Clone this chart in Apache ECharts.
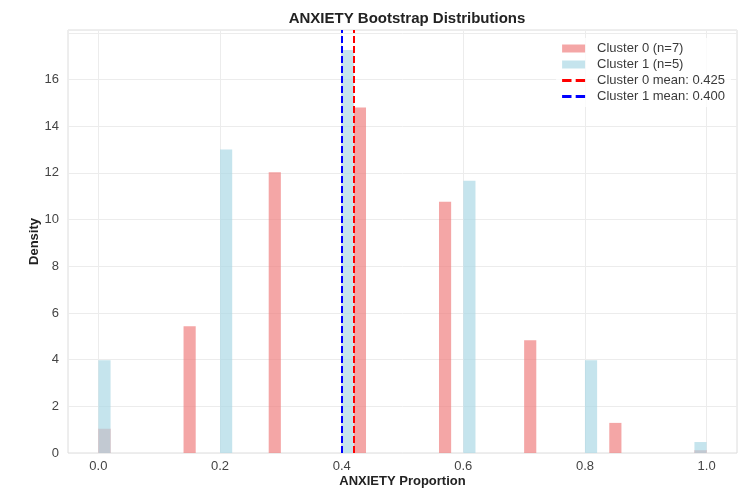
<!DOCTYPE html>
<html>
<head>
<meta charset="utf-8">
<script src="https://cdn.jsdelivr.net/npm/echarts@6/dist/echarts.min.js"></script>
<style>
  html, body { margin: 0; padding: 0; background: #fff; }
  #chart { width: 743px; height: 495px; }
</style>
</head>
<body>
<div id="chart"></div>
<script>
// Histogram bins (left edges) and densities for each cluster
const binWidth = 0.02;
const cluster0Bins = [0.00, 0.14, 0.28, 0.42, 0.56, 0.70, 0.84, 0.98];
const cluster0Density = [1.04, 5.43, 12.03, 14.80, 10.76, 4.83, 1.29, 0.12];
const cluster1Bins = [0.00, 0.20, 0.40, 0.60, 0.80, 0.98];
const cluster1Density = [3.97, 13.00, 17.26, 11.66, 3.97, 0.47];

// Bootstrap means
const cluster0Mean = 0.425;
const cluster1Mean = 0.400;

const xTicks = [0.0, 0.2, 0.4, 0.6, 0.8, 1.0];
const yTicks = [0, 2, 4, 6, 8, 10, 12, 14, 16];

const FONT = '"Liberation Sans", Arial, sans-serif';
const RED_FILL = 'rgba(240,128,128,0.7)';
const BLUE_FILL = 'rgba(173,216,230,0.7)';

function histSeries(name, bins, dens, fill) {
  return {
    name: name,
    type: 'custom',
    data: bins.map((b, i) => [b, dens[i]]),
    encode: { x: 0, y: 1 },
    clip: true,
    itemStyle: { color: fill },
    renderItem: function (params, api) {
      const x0 = api.value(0);
      const h = api.value(1);
      const pTop = api.coord([x0, h]);
      const pBase = api.coord([x0 + binWidth, 0]);
      return {
        type: 'rect',
        shape: { x: pTop[0], y: pTop[1], width: pBase[0] - pTop[0], height: pBase[1] - pTop[1] },
        style: { fill: fill }
      };
    }
  };
}

function meanSeries(name, value, color) {
  return {
    name: name,
    type: 'line',
    data: [],
    color: color,
    markLine: {
      silent: true,
      symbol: 'none',
      label: { show: false },
      lineStyle: { color: color, width: 2, type: [7, 3] },
      data: [{ xAxis: value }]
    }
  };
}

const dashIcon = 'path://M0,0h9v3h-9z M13,0h9v3h-9z';

const chart = echarts.init(document.getElementById('chart'), null, { renderer: 'canvas' });
chart.setOption({
  animation: false,
  backgroundColor: '#fff',
  textStyle: { fontFamily: FONT },
  title: {
    text: 'ANXIETY Bootstrap Distributions',
    left: 402,
    textAlign: 'center',
    top: 6,
    textStyle: { fontFamily: FONT, fontSize: 15, fontWeight: 'bold', color: '#222' }
  },
  grid: {
    left: 68, right: 6, top: 30, bottom: 42,
    outerBoundsMode: 'none',
    containLabel: false,
    show: true, borderColor: '#dcdcdc', borderWidth: 1, backgroundColor: 'transparent'
  },
  legend: {
    right: 12,
    top: 38,
    orient: 'vertical',
    itemWidth: 23,
    itemHeight: 8,
    itemGap: 3,
    backgroundColor: 'rgba(255,255,255,0.8)',
    padding: [4, 6, 4, 6],
    textStyle: { fontFamily: FONT, fontSize: 13, lineHeight: 12, color: '#3a3a3a', padding: [0, 0, 0, 7] },
    data: [
      { name: 'Cluster 0 (n=7)', icon: 'rect', itemStyle: { color: RED_FILL } },
      { name: 'Cluster 1 (n=5)', icon: 'rect', itemStyle: { color: BLUE_FILL } },
      { name: 'Cluster 0 mean: 0.425', icon: dashIcon, itemStyle: { color: 'red' } },
      { name: 'Cluster 1 mean: 0.400', icon: dashIcon, itemStyle: { color: 'blue' } }
    ]
  },
  xAxis: {
    type: 'value',
    min: -0.05,
    max: 1.05,
    name: 'ANXIETY Proportion',
    nameLocation: 'middle',
    nameGap: 22,
    nameMoveOverlap: false,
    nameTextStyle: { fontFamily: FONT, fontSize: 13, fontWeight: 'bold', color: '#222' },
    axisLine: { show: false },
    axisTick: { show: false, customValues: xTicks },
    axisLabel: {
      fontFamily: FONT, fontSize: 13, color: '#444', margin: 7,
      customValues: xTicks,
      formatter: v => v.toFixed(1)
    },
    splitLine: { show: true, lineStyle: { color: '#ececec', width: 1 } }
  },
  yAxis: {
    type: 'value',
    min: 0,
    max: 18.12,
    interval: 2,
    name: 'Density',
    nameLocation: 'middle',
    nameGap: 27,
    nameMoveOverlap: false,
    nameTextStyle: { fontFamily: FONT, fontSize: 13, fontWeight: 'bold', color: '#222' },
    axisLine: { show: false },
    axisTick: { show: false },
    axisLabel: {
      fontFamily: FONT, fontSize: 13, color: '#444', margin: 9,
      customValues: yTicks,
      formatter: v => String(v)
    },
    splitLine: { show: true, lineStyle: { color: '#ececec', width: 1 } }
  },
  series: [
    histSeries('Cluster 0 (n=7)', cluster0Bins, cluster0Density, RED_FILL),
    histSeries('Cluster 1 (n=5)', cluster1Bins, cluster1Density, BLUE_FILL),
    meanSeries('Cluster 0 mean: 0.425', cluster0Mean, 'red'),
    meanSeries('Cluster 1 mean: 0.400', cluster1Mean, 'blue')
  ]
});
</script>
</body>
</html>
